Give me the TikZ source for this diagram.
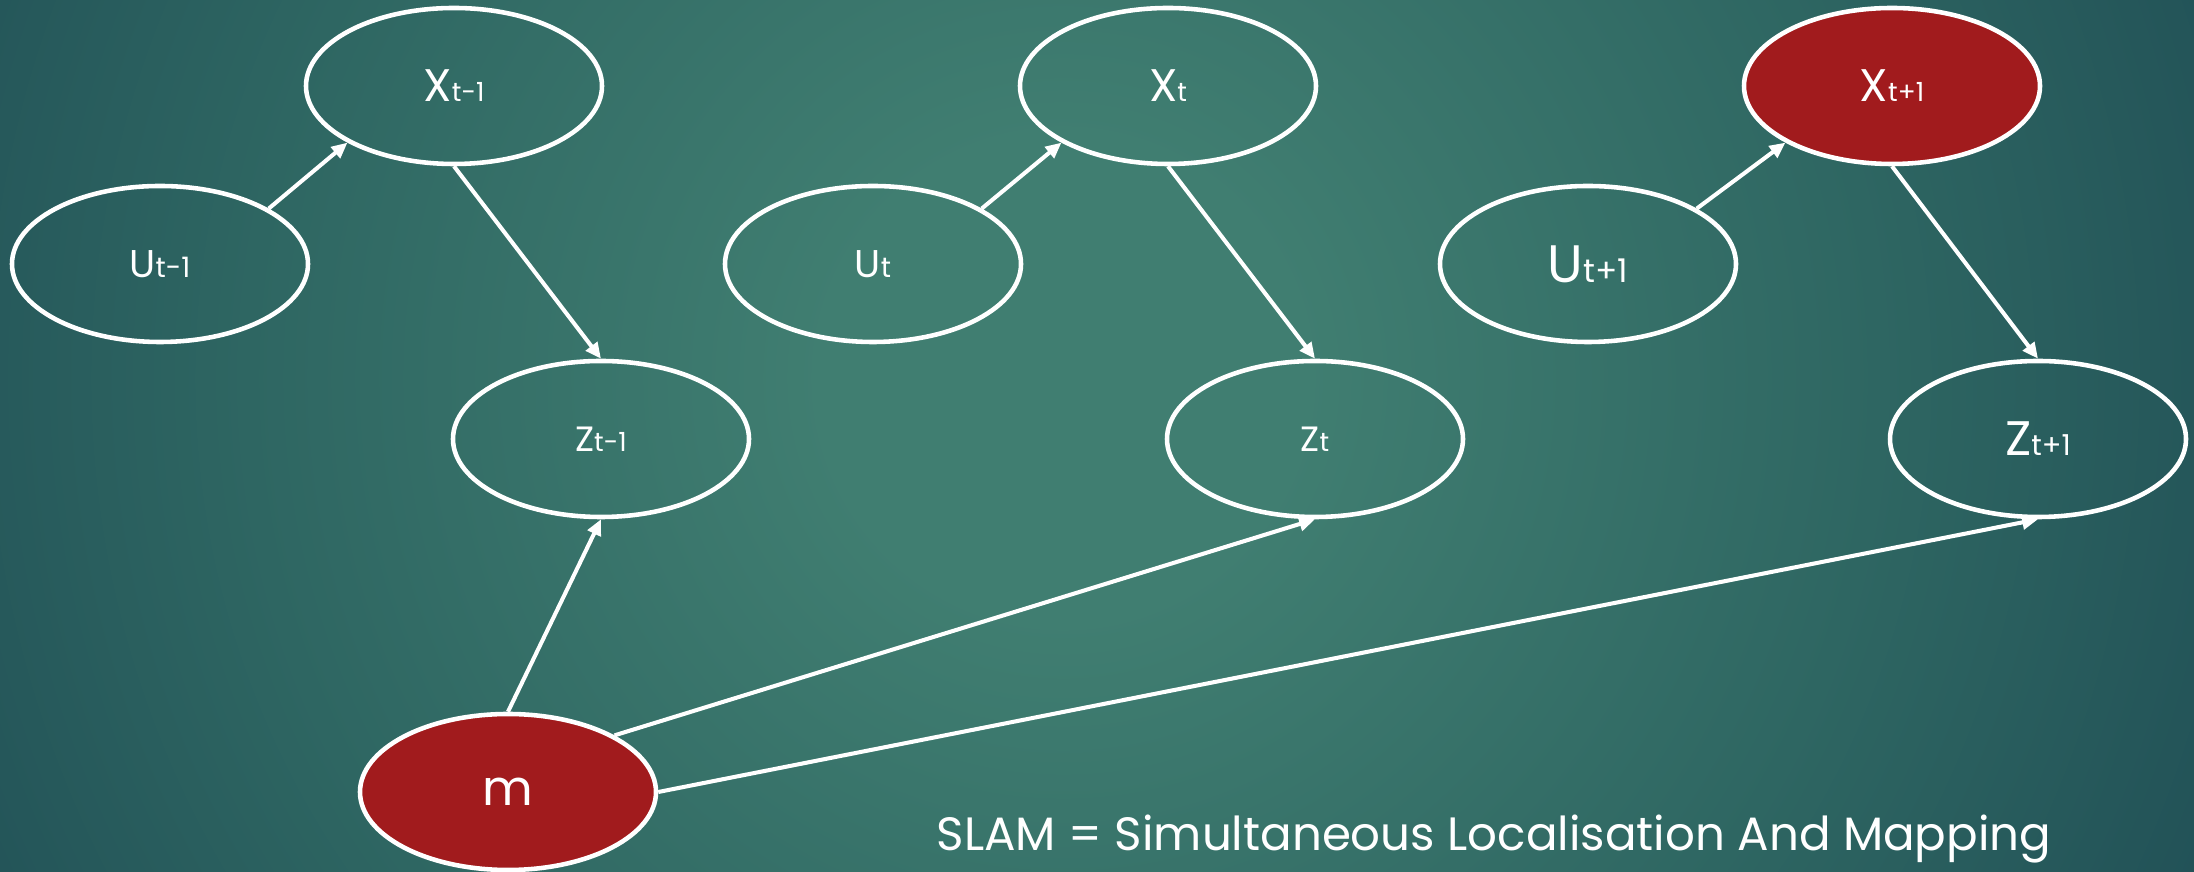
\documentclass[tikz,border=0pt]{standalone}
\usepackage{fontspec}
\setmainfont{Poppins}
\usepackage{tikz}
\usetikzlibrary{arrows.meta,shapes.geometric}
\usepackage{xcolor}
\definecolor{bglight}{RGB}{64,126,113}
\definecolor{bgmid}{RGB}{46,102,98}
\definecolor{bgdark}{RGB}{28,72,82}
\definecolor{bgdeep}{RGB}{20,56,72}
\definecolor{nodered}{RGB}{161,27,29}
\pgfdeclareradialshading{slidebg}{\pgfpoint{0bp}{0bp}}{color(0bp)=(bglight); color(5bp)=(bglight); color(17bp)=(bgmid); color(30bp)=(bgdark); color(42bp)=(bgdeep); color(60bp)=(bgdeep)}
\newcommand{\varlbl}[4]{{\fontsize{#3}{#3}\selectfont #1}{\fontsize{#4}{#4}\selectfont #2}}

\begin{document}
\begin{tikzpicture}[
  var/.style={ellipse, draw=white, line width=1.3pt, minimum width=2.96cm, minimum height=1.56cm, inner sep=0pt, text=white},
  obs/.style={var, fill=nodered},
  arr/.style={draw=white, line width=1.15pt, -{Triangle[length=4.5pt,width=4pt]}}]
  \useasboundingbox (0,0) rectangle (21.94,8.72);
  \begin{scope}
    \clip (0,0) rectangle (21.94,8.72);
    \shade[shading=slidebg] (-1.37,-7.06) rectangle (22.63,16.94);
  \end{scope}

  \node[var] (Ua) at (1.60,6.08) {\varlbl{U}{t-1}{11}{8}};
  \node[var] (Xa) at (4.54,7.86) {\varlbl{X}{t-1}{13}{7.5}};
  \node[var] (Za) at (6.01,4.33) {\varlbl{Z}{t-1}{10}{7.5}};
  \node[var] (Ub) at (8.73,6.08) {\varlbl{U}{t}{11}{8}};
  \node[var] (Xb) at (11.68,7.86) {\varlbl{X}{t}{13}{7.5}};
  \node[var] (Zb) at (13.15,4.33) {\varlbl{Z}{t}{10}{7.5}};
  \node[var] (Uc) at (15.88,6.08) {\varlbl{U}{t+1}{15}{9.3}};
  \node[obs] (Xc) at (18.92,7.86) {\varlbl{X}{t+1}{13}{7.5}};
  \node[var] (Zc) at (20.38,4.33) {\varlbl{Z}{t+1}{13.8}{8.2}};
  \node[obs] (m) at (5.08,0.80) {\fontsize{14}{14}\selectfont m};

  \foreach \s in {a,b,c} {
    \draw[arr] (U\s.27) -- (X\s.208);
    \draw[arr] (X\s.south) -- (Z\s.north);
  }
  \draw[arr] (m.north) -- (Za.south);
  \draw[arr] (m.28) -- (Zb.south);
  \draw[arr] (m.east) -- (Zc.south);

  \node[text=white, anchor=base] (slam) at (14.94,0.21) {\fontsize{13.3}{13.3}\selectfont SLAM = Simultaneous Localisation And Mapping};
\end{tikzpicture}
\end{document}
